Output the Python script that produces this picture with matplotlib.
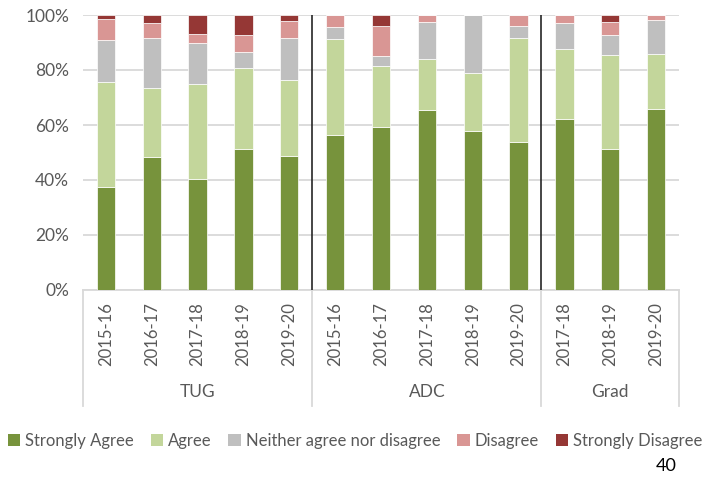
import numpy as np
import matplotlib
matplotlib.use("Agg")
import matplotlib.pyplot as plt
from matplotlib.patches import Patch

plt.rcParams['font.family'] = ['Lato', 'DejaVu Sans']

groups = ["TUG", "ADC", "Grad"]
group_sizes = [5, 5, 3]
years = ["2015-16", "2016-17", "2017-18", "2018-19", "2019-20",
         "2015-16", "2016-17", "2017-18", "2018-19", "2019-20",
         "2017-18", "2018-19", "2019-20"]

# percentage of responses in each category (rows sum to ~100)
strongly_agree = [37.5, 48.4, 40.4, 51.3, 48.7, 56.4, 59.3, 65.5, 57.8, 53.8, 62.2, 51.3, 65.8]
agree          = [38.1, 25.1, 34.4, 29.3, 27.8, 34.8, 22.0, 18.5, 21.0, 37.7, 25.3, 34.0, 19.9]
neither        = [15.2, 18.0, 14.9, 6.1, 15.0, 4.4, 3.8, 13.3, 21.2, 4.5, 9.5, 7.3, 12.5]
disagree       = [7.6, 5.6, 3.4, 5.9, 6.3, 4.4, 11.0, 2.7, 0.0, 4.0, 3.0, 4.9, 1.8]
strongly_dis   = [1.6, 2.9, 6.9, 7.4, 2.2, 0.0, 3.9, 0.0, 0.0, 0.0, 0.0, 2.5, 0.0]

series = [("Strongly Agree", strongly_agree, "#77933C"),
          ("Agree", agree, "#C3D69B"),
          ("Neither agree nor disagree", neither, "#BFBFBF"),
          ("Disagree", disagree, "#D99694"),
          ("Strongly Disagree", strongly_dis, "#953735")]

text_col = "#595959"
grid_col = "#D9D9D9"

fig = plt.figure(figsize=(7.1, 4.8), dpi=100)
ax = fig.add_axes([83 / 710, 1 - 290 / 480, 596 / 710, 275 / 480])

x = np.arange(len(years))
bottom = np.zeros(len(years))
for name, vals, col in series:
    vals = np.array(vals)
    ax.bar(x, vals, 0.4, bottom=bottom, color=col, edgecolor="white",
           linewidth=0.5, zorder=3)
    bottom += vals

ax.set_xlim(-0.5, len(years) - 0.5)
ax.set_ylim(0, 100)
ax.set_yticks(np.arange(0, 101, 20))
ax.set_yticklabels(["%d%%" % v for v in range(0, 101, 20)], color=text_col, fontsize=12.5)
ax.yaxis.grid(True, color=grid_col, linewidth=1.3, zorder=0)
ax.set_axisbelow(True)
for s in ["top", "right", "left"]:
    ax.spines[s].set_visible(False)
ax.spines["bottom"].set_color(grid_col)
ax.spines["bottom"].set_linewidth(1.3)
ax.tick_params(axis="y", length=0, pad=10)

ax.set_xticks(x)
ax.set_xticklabels(years, rotation=90, color=text_col, fontsize=12)
ax.tick_params(axis="x", length=0, pad=9)

# group separators: dark inside plot, light below axis
edges = np.cumsum([0] + group_sizes) - 0.5
trans = ax.get_xaxis_transform()
for i, e in enumerate(edges):
    if 0 < i < len(edges) - 1:
        ax.plot([e, e], [0, 1], transform=trans, color="#262626", lw=1.2, zorder=4)
    ax.plot([e, e], [0, -0.42], transform=trans, color=grid_col, lw=1.3, clip_on=False)

for i, g in enumerate(groups):
    mid = (edges[i] + edges[i + 1]) / 2
    ax.text(mid, -0.372, g, transform=trans, ha="center", va="center",
            color=text_col, fontsize=12.5)

handles = [Patch(facecolor=c, label=n) for n, _, c in series]
fig.legend(handles=handles, loc="center", bbox_to_anchor=(355 / 710, 1 - 441 / 480),
           ncol=5, frameon=False, fontsize=12, handlelength=0.75, handleheight=0.75,
           handletextpad=0.3, columnspacing=1.0, labelcolor=text_col)

fig.text(666 / 710, 1 - 466 / 480, "40", ha="center", va="center", fontsize=13, color="black")

fig.savefig("out.png", dpi=100)
